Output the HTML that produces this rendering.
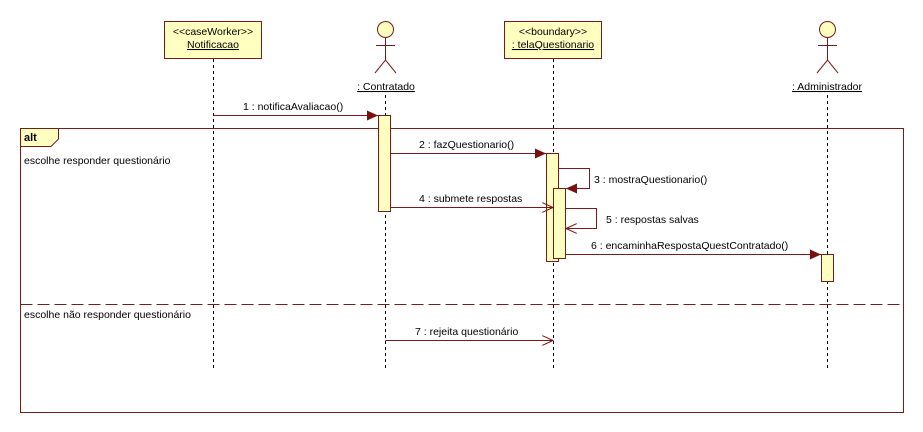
<!DOCTYPE html>
<html><head><style>
body{margin:0;background:#fff;}
svg{display:block;font-family:"Liberation Sans",sans-serif;font-size:11px;}
</style></head><body>
<svg width="923" height="432" viewBox="0 0 923 432" xmlns="http://www.w3.org/2000/svg">
<defs>
<marker id="f" markerWidth="12" markerHeight="10" refX="11" refY="5" orient="auto" markerUnits="userSpaceOnUse"><path d="M0,0 L11,5 L0,10 Z" fill="#7a0f0f"/></marker>
<marker id="o" markerWidth="12" markerHeight="10" refX="11" refY="5" orient="auto" markerUnits="userSpaceOnUse"><path d="M0,0 L11,5 L0,10" fill="none" stroke="#7a0f0f"/></marker>
</defs>
<g stroke="#000" stroke-dasharray="3,3" stroke-width="1">
<line x1="213.5" y1="59" x2="213.5" y2="368"/>
<line x1="385.5" y1="95" x2="385.5" y2="368"/>
<line x1="553.5" y1="59" x2="553.5" y2="368"/>
<line x1="827.5" y1="95" x2="827.5" y2="368"/>
</g>
<!-- frame -->
<rect x="20.5" y="128.5" width="883" height="284" fill="none" stroke="#7a1a1a"/>
<path d="M20.5,128.5 H58.5 V139 L51,146.5 H20.5 Z" fill="#ffffc0" stroke="#7a1a1a"/>
<text x="24" y="141" font-weight="bold">alt</text>
<text x="24" y="164" font-size="10.5">escolhe responder questionário</text>
<line x1="20.5" y1="304.5" x2="903.5" y2="304.5" stroke="#7a1a1a" stroke-dasharray="12,5"/>
<text x="24" y="318" font-size="10.5">escolhe não responder questionário</text>
<!-- boxes -->
<rect x="164.5" y="21.5" width="97" height="37" fill="#ffffc0" stroke="#7a1a1a"/>
<text x="213" y="35" text-anchor="middle" font-size="10.5">&lt;&lt;caseWorker&gt;&gt;</text>
<text x="213" y="48" text-anchor="middle" font-size="10.5" text-decoration="underline">Notificacao</text>
<rect x="504.5" y="21.5" width="97" height="37" fill="#ffffc0" stroke="#7a1a1a"/>
<text x="553" y="35" text-anchor="middle" font-size="10.5">&lt;&lt;boundary&gt;&gt;</text>
<text x="553" y="48" text-anchor="middle" font-size="10.5" text-decoration="underline">: telaQuestionario</text>
<!-- actors -->
<g stroke="#7a1a1a" fill="none">
<circle cx="385.5" cy="29.5" r="8" fill="#ffffc0"/>
<line x1="385.5" y1="37.5" x2="385.5" y2="60"/><line x1="376" y1="45.5" x2="395" y2="45.5"/>
<path d="M375,73 L385.5,60 L396,73"/>
<circle cx="827.5" cy="29.5" r="8" fill="#ffffc0"/>
<line x1="827.5" y1="37.5" x2="827.5" y2="60"/><line x1="818" y1="45.5" x2="837" y2="45.5"/>
<path d="M817,73 L827.5,60 L838,73"/>
</g>
<text x="386" y="90" text-anchor="middle" font-size="10.5" text-decoration="underline">: Contratado</text>
<text x="827" y="90" text-anchor="middle" font-size="10.5" text-decoration="underline">: Administrador</text>
<!-- activations -->
<g fill="#ffffc0" stroke="#7a1a1a">
<rect x="378.5" y="115.5" width="12" height="96"/>
<rect x="546.5" y="153.5" width="12" height="108"/>
<rect x="553.5" y="188.5" width="12" height="70"/>
<rect x="821.5" y="254.5" width="12" height="27"/>
</g>
<!-- messages -->
<g stroke="#7a1a1a" fill="none">
<line x1="213.5" y1="115.5" x2="378" y2="115.5" marker-end="url(#f)"/>
<line x1="390.5" y1="153.5" x2="546" y2="153.5" marker-end="url(#f)"/>
<path d="M558.5,168.5 H589.5 V188.5 H566" marker-end="url(#f)"/>
<line x1="390.5" y1="207.5" x2="553" y2="207.5" marker-end="url(#o)"/>
<path d="M565.5,208.5 H596.5 V228.5 H566" marker-end="url(#o)"/>
<line x1="565.5" y1="254.5" x2="821" y2="254.5" marker-end="url(#f)"/>
<line x1="385.5" y1="340.5" x2="553" y2="340.5" marker-end="url(#o)"/>
</g>
<g font-size="10.5">
<text x="243" y="110">1 : notificaAvaliacao()</text>
<text x="419" y="148">2 : fazQuestionario()</text>
<text x="594" y="183">3 : mostraQuestionario()</text>
<text x="419" y="202">4 : submete respostas</text>
<text x="606" y="223">5 : respostas salvas</text>
<text x="591" y="249">6 : encaminhaRespostaQuestContratado()</text>
<text x="415" y="335">7 : rejeita questionário</text>
</g>
</svg>
</body></html>
